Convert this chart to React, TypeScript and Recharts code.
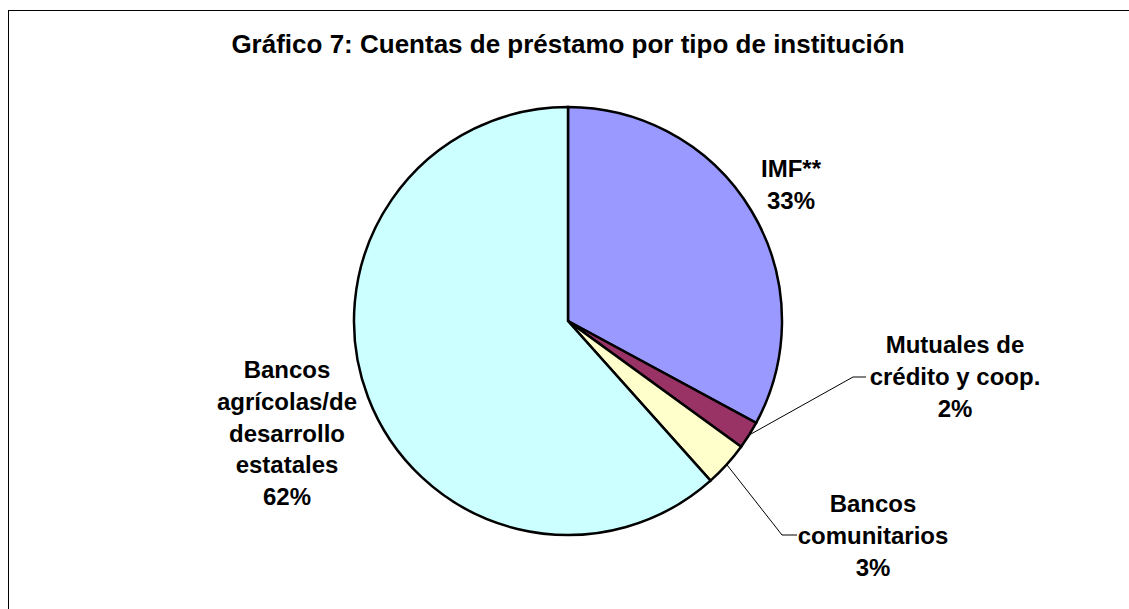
import React from 'react';
import { PieChart, Pie, Cell } from 'recharts';

const categories = ['IMF**', 'Mutuales de crédito y coop.', 'Bancos comunitarios', 'Bancos agrícolas/de desarrollo estatales'];
const labelLines = [
  ['IMF**'],
  ['Mutuales de', 'crédito y coop.'],
  ['Bancos', 'comunitarios'],
  ['Bancos', 'agrícolas/de', 'desarrollo', 'estatales'],
];
const shares = [32.9, 2.1, 3.4, 61.6];
const colors = ['#9999FF', '#993366', '#FFFFCC', '#CCFFFF'];
const title = 'Gráfico 7: Cuentas de préstamo por tipo de institución';

const data = categories.map((name, i) => ({ name, value: shares[i] }));

// layout: label anchors relative to pie centre (first baseline), and leader elbows
const labelLayout = [
  { dx: 223, dy: -144, leader: null as null | { ex: number; ey: number; hx: number } },
  { dx: 387, dy: 32, leader: { ex: 285, ey: 56, hx: 298 } },
  { dx: 305, dy: 191, leader: { ex: 214, ey: 214, hx: 229 } },
  { dx: -281, dy: 57, leader: null },
];
const LINE_H = 31.8;
const FONT = '"Liberation Sans", Arial, sans-serif';
const RAD = Math.PI / 180;

const renderLabel = (props: any) => {
  const { cx, cy, midAngle, outerRadius, index, value } = props;
  const lay = labelLayout[index];
  const lines = [...labelLines[index], `${Math.round(value)}%`];
  const x = cx + lay.dx;
  const y0 = cy + lay.dy;
  let leader = null;
  if (lay.leader) {
    const sx = cx + outerRadius * Math.cos(-midAngle * RAD);
    const sy = cy + outerRadius * Math.sin(-midAngle * RAD);
    const ex = cx + lay.leader.ex;
    const ey = cy + lay.leader.ey;
    const hx = cx + lay.leader.hx;
    leader = <polyline points={`${sx},${sy} ${ex},${ey} ${hx},${ey}`} fill="none" stroke="#000" strokeWidth={1} />;
  }
  return (
    <g key={`lbl-${index}`}>
      {leader}
      {lines.map((t, k) => (
        <text key={k} x={x} y={y0 + k * LINE_H} textAnchor="middle" fontFamily={FONT} fontWeight="bold" fontSize={24} fill="#000">
          {t}
        </text>
      ))}
    </g>
  );
};

export default function App() {
  return (
    <div style={{ position: 'fixed', left: 0, top: 0, width: 1129, height: 609, overflow: 'hidden', background: '#fff' }}>
      <div style={{ position: 'absolute', left: 8, top: 10, width: 1200, height: 700, border: '1px solid #000', boxSizing: 'border-box' }} />
      <div style={{ position: 'absolute', left: 0, top: 0 }}>
        <PieChart width={1129} height={609} margin={{ top: 0, right: 0, bottom: 0, left: 0 }}>
          <text x={568} y={53} textAnchor="middle" fontFamily={FONT} fontWeight="bold" fontSize={26} fill="#000">
            {title}
          </text>
          <Pie
            data={data}
            dataKey="value"
            nameKey="name"
            cx={568}
            cy={321}
            outerRadius={214}
            startAngle={90}
            endAngle={-270}
            stroke="#000"
            strokeWidth={2.5}
            label={renderLabel}
            labelLine={false}
            isAnimationActive={false}
          >
            {data.map((d, i) => (
              <Cell key={d.name} fill={colors[i]} />
            ))}
          </Pie>
        </PieChart>
      </div>
    </div>
  );
}
